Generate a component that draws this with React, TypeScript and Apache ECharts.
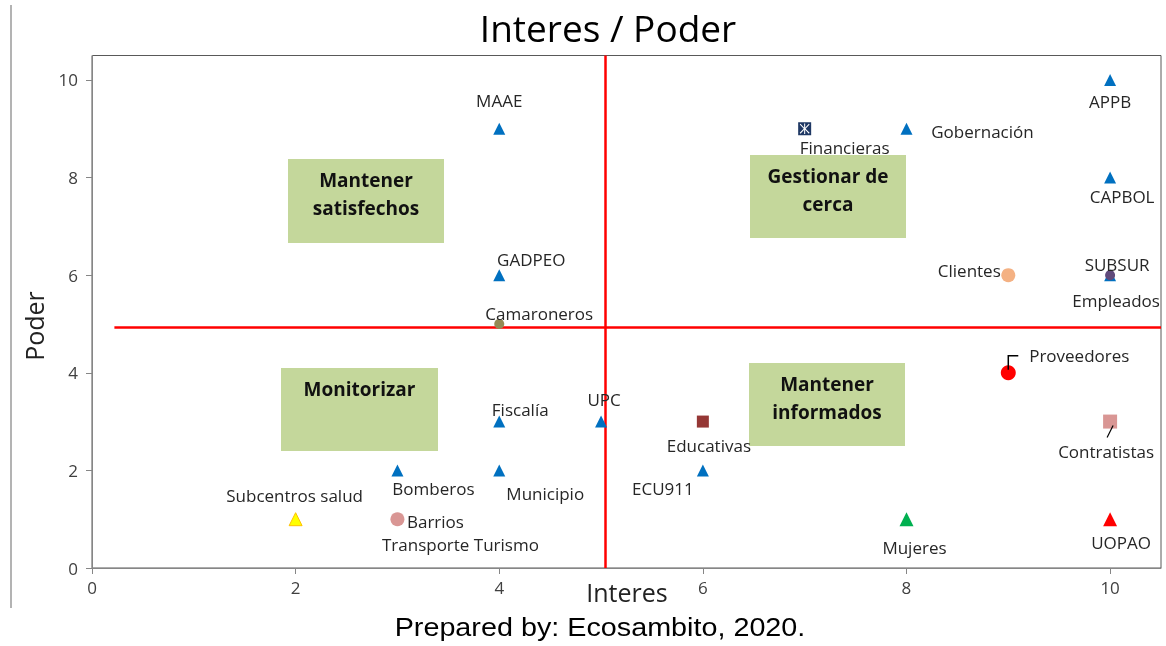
import React, { useEffect, useRef } from "react";
import * as echarts from "echarts";

// ---- data ----
const names = [
  "MAAE", "APPB", "Gobernación", "Financieras", "CAPBOL", "GADPEO", "Clientes",
  "Empleados", "SUBSUR", "Camaroneros", "Proveedores", "Fiscalía", "UPC",
  "Educativas", "Contratistas", "Bomberos", "Municipio", "ECU911",
  "Subcentros salud", "Barrios", "Transporte Turismo", "Mujeres", "UOPAO",
];
const interes = [4, 10, 8, 7, 10, 4, 9, 10, 10, 4, 9, 4, 5, 6, 10, 3, 4, 6, 2, 3, 3, 8, 10];
const poder = [9, 10, 9, 9, 8, 6, 6, 6, 6, 5, 4, 3, 3, 3, 3, 2, 2, 2, 1, 1, 1, 1, 1];
const axisTicks = [0, 2, 4, 6, 8, 10];
const quadrantX = 5.04;
const quadrantY = 4.93;
const quadrantLineStartX = 0.22;
const quadrantLabels = ["Mantener\nsatisfechos", "Gestionar de\ncerca", "Monitorizar", "Mantener\ninformados"];
const titleText = "Interes / Poder";
const xName = "Interes";
const yName = "Poder";
const caption = "Prepared by: Ecosambito, 2020.";

// ---- styles (marker look and label offsets in px) ----
type St = { symbol: string; size: number; color: string; border?: string; dx: number; dy: number };
const BLUE = "#0070c0";
const tri = (dx: number, dy: number): St => ({ symbol: "triangle", size: 12, color: BLUE, dx, dy });
// square with a white asterisk-like cross (Excel "star" marker look)
const STAR_SQUARE = "path://M0,0H10V10H0Z M1.2,1.8L4.3,5L1.2,8.2L1.8,8.8L4.6,5.8V9H5.4V5.8L8.2,8.8L8.8,8.2L5.7,5L8.8,1.8L8.2,1.2L5.4,4.2V1H4.6V4.2L1.8,1.2Z";
const styles: Record<string, St> = {
  "MAAE": tri(0, -28),
  "APPB": tri(0, 22),
  "Gobernación": tri(76, 3),
  "Financieras": { symbol: STAR_SQUARE, size: 13, color: "#1f3864", dx: 40, dy: 19 },
  "CAPBOL": tri(12, 19),
  "GADPEO": tri(32, -16),
  "Clientes": { symbol: "circle", size: 14, color: "#f4b183", dx: -39, dy: -5 },
  "Empleados": tri(6, 25),
  "SUBSUR": { symbol: "circle", size: 10, color: "#604a7b", dx: 7, dy: -11 },
  "Camaroneros": { symbol: "circle", size: 10, color: "#948a54", dx: 40, dy: -10 },
  "Proveedores": { symbol: "circle", size: 15, color: "#ff0000", dx: 71, dy: -17 },
  "Fiscalía": tri(21, -12),
  "UPC": tri(3, -22),
  "Educativas": { symbol: "rect", size: 12, color: "#953735", dx: 6, dy: 24 },
  "Contratistas": { symbol: "rect", size: 14, color: "#d99694", dx: -4, dy: 30 },
  "Bomberos": tri(36, 18),
  "Municipio": tri(46, 23),
  "ECU911": tri(-40, 18),
  "Subcentros salud": { symbol: "triangle", size: 13, color: "#ffff00", border: "#ffc000", dx: -1, dy: -24 },
  "Barrios": { symbol: "circle", size: 14, color: "#d99694", dx: 38, dy: 2 },
  "Transporte Turismo": { symbol: "circle", size: 1, color: "rgba(0,0,0,0)", dx: 63, dy: 25 },
  "Mujeres": { symbol: "triangle", size: 14, color: "#00b050", dx: 8, dy: 28 },
  "UOPAO": { symbol: "triangle", size: 14, color: "#ff0000", dx: 11, dy: 23 },
};

const LABEL_FONT = "'Open Sans', sans-serif";
const BOX_COLOR = "#c4d79b";
const boxes = [
  { x: 288, y: 159, w: 156, h: 84 },
  { x: 750, y: 155, w: 156, h: 83 },
  { x: 281, y: 368, w: 157, h: 83 },
  { x: 749, y: 363, w: 156, h: 83 },
];

export default function App() {
  const ref = useRef<HTMLDivElement>(null);
  useEffect(() => {
    if (!ref.current) return;
    const chart = echarts.init(ref.current, undefined, { renderer: "svg" });

    const data = names.map((n, i) => {
      const s = styles[n];
      return {
        name: n,
        value: [interes[i], poder[i]],
        symbol: s.symbol,
        symbolSize: s.size,
        itemStyle: { color: s.color, opacity: 1, borderColor: s.border || s.color, borderWidth: s.border ? 1 : 0 },
        label: {
          show: true,
          position: "inside",
          offset: [s.dx, s.dy],
          formatter: n,
          color: "#262626",
          fontSize: 17,
          lineHeight: 19,
          fontFamily: LABEL_FONT,
        },
      };
    });

    const graphic: any[] = [
      { type: "line", shape: { x1: 11, y1: 5, x2: 11, y2: 608 }, style: { stroke: "#9a9a9a", lineWidth: 1.5 } },
      {
        type: "text", x: 600, y: 628, scaleX: 1.15, originX: 0, originY: 0,
        style: { text: caption, font: "25px 'Liberation Sans', Arial, sans-serif", fill: "#000", align: "center", verticalAlign: "middle" },
      },
      {
        type: "text", x: 608, y: 27,
        style: { text: titleText, font: "37px " + LABEL_FONT, fill: "#000", align: "center", verticalAlign: "middle" },
      },
      {
        type: "text", x: 627, y: 592,
        style: { text: xName, font: "25px " + LABEL_FONT, fill: "#222", align: "center", verticalAlign: "middle" },
      },
      {
        type: "text", x: 34, y: 326, rotation: Math.PI / 2,
        style: { text: yName, font: "25px " + LABEL_FONT, fill: "#222", align: "center", verticalAlign: "middle" },
      },
    ];
    boxes.forEach((b, i) => {
      graphic.push({ type: "rect", shape: { x: b.x, y: b.y, width: b.w, height: b.h }, style: { fill: BOX_COLOR }, z: 1 });
      graphic.push({
        type: "text", x: b.x + b.w / 2, y: b.y + 7, z: 2,
        style: {
          text: quadrantLabels[i], fill: "#111", align: "center", verticalAlign: "top",
          font: "bold 19px " + LABEL_FONT, lineHeight: 28,
        },
      });
    });

    chart.setOption({
      animation: false,
      grid: { left: 92, top: 55.5, width: 1069, height: 512.5, show: true, borderColor: "#595959", borderWidth: 1 },
      xAxis: {
        type: "value", min: 0, max: 10.5,
        axisLine: { show: true, lineStyle: { color: "#868686" } },
        axisTick: { show: true, customValues: axisTicks, length: 6, lineStyle: { color: "#868686" } },
        axisLabel: { customValues: axisTicks, color: "#404040", fontSize: 17, fontFamily: LABEL_FONT, margin: 11 },
        splitLine: { show: false },
      },
      yAxis: {
        type: "value", min: 0, max: 10.5,
        axisLine: { show: true, lineStyle: { color: "#868686" } },
        axisTick: { show: true, customValues: axisTicks, length: 6, lineStyle: { color: "#868686" } },
        axisLabel: { customValues: axisTicks, color: "#404040", fontSize: 17, fontFamily: LABEL_FONT, margin: 14 },
        splitLine: { show: false },
      },
      graphic,
      series: [
        {
          type: "scatter",
          z: 5,
          data,
          markLine: {
            silent: true,
            symbol: "none",
            label: { show: false },
            lineStyle: { color: "#ff0000", width: 2.5, type: "solid" },
            data: [
              [{ coord: [quadrantX, 0] }, { coord: [quadrantX, 10.5] }],
              [{ coord: [quadrantLineStartX, quadrantY] }, { coord: [10.5, quadrantY] }],
            ],
          },
        },
      ],
    });

    // leader lines for two labels, anchored on the data points
    const iP = names.indexOf("Proveedores");
    const iC = names.indexOf("Contratistas");
    const p = chart.convertToPixel({ gridIndex: 0 }, [interes[iP], poder[iP]]) as number[];
    const c = chart.convertToPixel({ gridIndex: 0 }, [interes[iC], poder[iC]]) as number[];
    chart.setOption({
      graphic: [
        ...graphic,
        { type: "polyline", z: 10, shape: { points: [[p[0], p[1] - 3], [p[0], p[1] - 17], [p[0] + 10, p[1] - 17]] }, style: { stroke: "#000", lineWidth: 1.5, fill: null } },
        { type: "line", z: 10, shape: { x1: c[0] + 3, y1: c[1] + 4, x2: c[0] - 3, y2: c[1] + 16 }, style: { stroke: "#000", lineWidth: 1.2 } },
      ],
    });

    return () => chart.dispose();
  }, []);
  return <div ref={ref} style={{ position: "fixed", left: 0, top: 0, width: 1166, height: 646 }} />;
}
